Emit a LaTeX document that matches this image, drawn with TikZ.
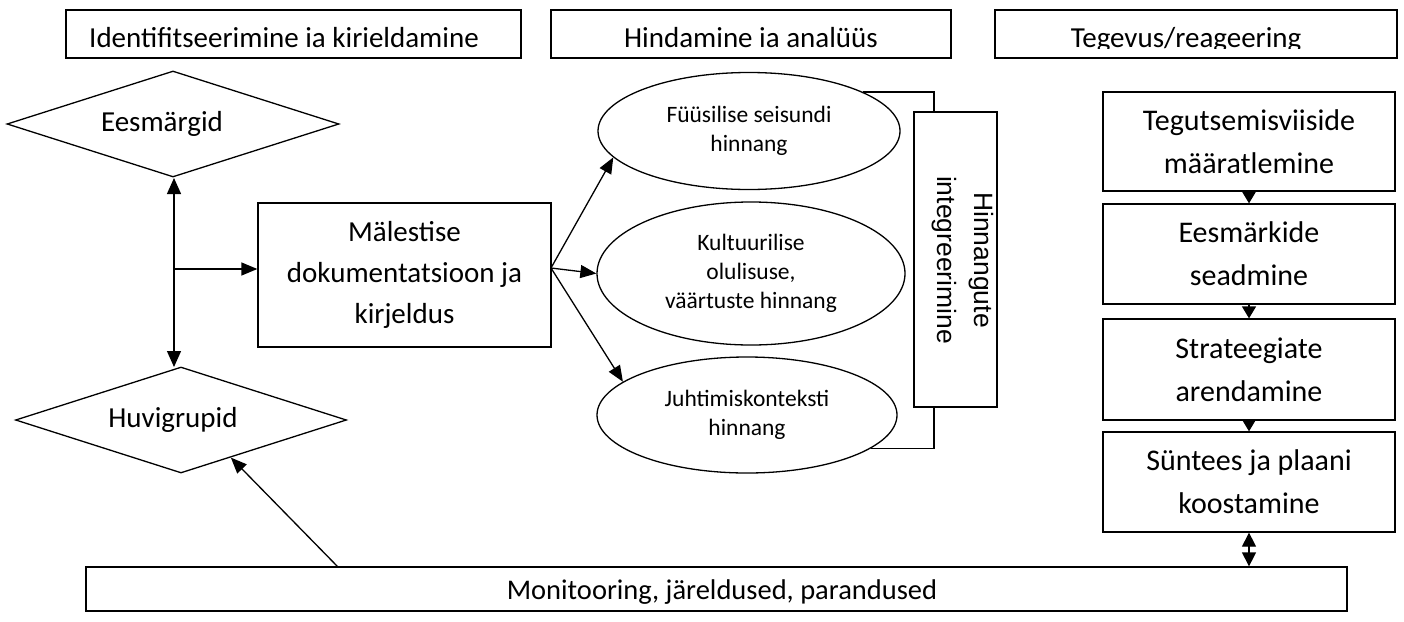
\documentclass[tikz,border=0pt]{standalone}
\usepackage{fontspec}
\setmainfont{Carlito}
\newfontfamily\arialf{Liberation Sans}
\usetikzlibrary{shapes.geometric,arrows.meta}
\tikzset{
  base/.style={draw=black, line width=1.3pt, inner sep=0pt, align=center},
  hdrbox/.style={base, minimum height=48},
  hdrtxt/.style={inner sep=0pt, font=\fontsize{29}{35}\selectfont, anchor=base},
  mainbox/.style={base, font=\fontsize{29}{41}\selectfont},
  rbox/.style={base, font=\fontsize{30}{43}\selectfont, minimum width=292, minimum height=99},
  dia/.style={base, diamond, shape aspect=3.13},
  diatxt/.style={inner sep=0pt, font=\fontsize{29}{34}\selectfont},
  ell/.style={base, ellipse, font=\fontsize{23.5}{29}\selectfont},
  arr/.style={line width=1.3pt, -{Triangle[length=16pt,width=13pt]}},
  darr/.style={line width=1.3pt, {Triangle[length=16pt,width=14pt]}-{Triangle[length=16pt,width=14pt]}},
  sarr/.style={line width=1.3pt, -{Triangle[length=12pt,width=14pt]}},
  sdarr/.style={line width=1.3pt, {Triangle[length=14pt,width=14pt]}-{Triangle[length=14pt,width=14pt]}},
  plain/.style={line width=1.3pt}
}
\begin{document}
\begin{tikzpicture}[x=1pt,y=-1pt]
\useasboundingbox[fill=white] (0,0) rectangle (1404,621);

% headers
\node[hdrbox, minimum width=455] (h1) at (293.5,34) {};
\node[hdrtxt] (h1t) at (284,47) {Identifitseerimine ia kirieldamine};
\node[hdrbox, minimum width=400] (h2) at (751,34) {};
\node[hdrtxt] (h2t) at (751,47) {Hindamine ia analüüs};
\node[hdrbox, minimum width=402] (h3) at (1196,34) {};
\begin{scope}
\clip (995,10) rectangle (1397,48.5);
\node[hdrtxt] (h3t) at (1186,47) {Tegevus/reageering};
\end{scope}

% left column
\node[dia, minimum width=332, minimum height=106] (ees) at (173,124) {};
\node[diatxt] (eest) at (162,124) {Eesmärgid};
\node[dia, minimum width=331, minimum height=106] (huv) at (181,420) {};
\node[diatxt] (huvt) at (173,420) {Huvigrupid};
\node[mainbox, minimum width=293, minimum height=144] (mal) at (404.5,275) {Mälestise\\dokumentatsioon ja\\kirjeldus};

\coordinate (vtop) at (174,178);
\coordinate (vbot) at (174,367);
\draw[darr] (vtop) -- (vbot);
\coordinate (jn) at (174,269);
\draw[arr] (jn) -- (jn -| mal.west);

% ellipses
\node[ell, minimum width=302, minimum height=117] (e1) at (749,131) {Füüsilise seisundi\\hinnang};
\node[ell, minimum width=308, minimum height=143] (e2) at (751,273.5) {Kultuurilise\\olulisuse,\\väärtuste hinnang};
\node[ell, minimum width=300, minimum height=116] (e3) at (747,415) {Juhtimiskonteksti\\hinnang};

\coordinate (mo) at (551,268);
\draw[arr] (mo) -- (e1.191);
\draw[arr] (mo) -- (e2.west);
\draw[arr] (mo) -- (e3.165);

% integration box
\node[base, minimum width=83, minimum height=295] (int) at (955.5,259.5) {};
\node[inner sep=0pt, rotate=-90, align=center, font=\arialf\fontsize{26.5}{37}\selectfont] (intt) at (963,260) {Hinnangute\\integreerimine};
\coordinate (bt) at (934,112);
\coordinate (bb) at (934,407);
\draw[plain] (e1.19) -| (bt);
\draw[plain] (e3.-15) -| (bb);

% right column
\node[rbox] (r1) at (1249,141.5) {Tegutsemisviiside\\määratlemine};
\node[rbox, minimum height=100] (r2) at (1249,254) {Eesmärkide\\seadmine};
\node[rbox, minimum height=101] (r3) at (1249,369.5) {Strateegiate\\arendamine};
\node[rbox, minimum height=100] (r4) at (1249,482) {Süntees ja plaani\\koostamine};
\draw[sarr] (r1.south) -- (r2.north);
\draw[sarr] (r2.south) -- (r3.north);
\draw[sarr] (r3.south) -- (r4.north);

% bottom box
\node[base, minimum width=1261, minimum height=44] (mon) at (716.5,589) {};
\node[inner sep=0pt, font=\fontsize{28.5}{34}\selectfont] (mont) at (722,592) {Monitooring, järeldused, parandused};
\draw[sdarr] (r4.south) -- (r4.south |- mon.north);
\coordinate (ms) at (338,567);
\draw[arr] (ms) -- (huv.-37);
\end{tikzpicture}
\end{document}
